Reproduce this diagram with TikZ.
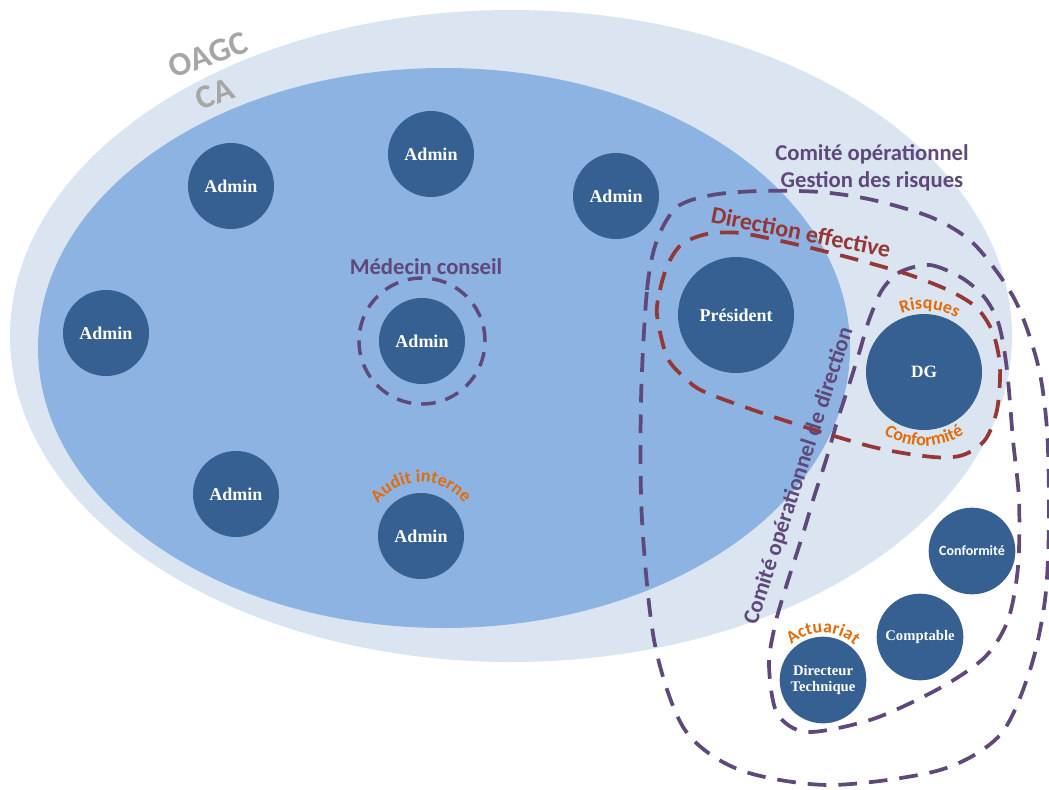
\documentclass[tikz,border=0pt]{standalone}
\usepackage{fontspec}
\usetikzlibrary{decorations.text}
\newfontfamily\calib{Carlito}
\newfontfamily\tnr{Liberation Serif}
\definecolor{oagcblue}{HTML}{DBE5F1}
\definecolor{cablue}{HTML}{8DB3E2}
\definecolor{nodeblue}{HTML}{366092}
\definecolor{purp}{HTML}{5F497A}
\definecolor{redbrown}{HTML}{953735}
\definecolor{orng}{HTML}{E36C09}
\definecolor{labgray}{HTML}{A6A6A6}
\begin{document}
\begin{tikzpicture}[x=0.75pt,y=0.75pt,
  member/.style={circle,fill=nodeblue,text=white,inner sep=0pt,minimum size=64.5pt,font=\tnr\bfseries\fontsize{13.5}{15}\selectfont},
  bigmember/.style={member,minimum size=87pt},
  subunit/.style={member,minimum size=65pt,align=center,font=\tnr\bfseries\fontsize{11}{12.5}\selectfont},
  cmtloop/.style={line width=2.8pt,dash pattern=on 14pt off 9pt},
  purplab/.style={text=purp,font=\calib\bfseries\fontsize{17}{20}\selectfont},
  graylab/.style={text=labgray,rotate=20,font=\calib\bfseries\fontsize{25}{28}\selectfont},
  arclabel/.style={decorate,decoration={text along path,text align=center,text color=orng,
    text={|\calib\bfseries\fontsize{13.5}{15}\selectfont|#1}}}]
\useasboundingbox (0,0) rectangle (1049,-789);
\fill[oagcblue] (511,-336) ellipse [x radius=501,y radius=326];
\fill[cablue] (444,-348) ellipse [x radius=406,y radius=280];

\node[graylab] (oagc) at (208,-55) {OAGC};
\node[graylab] (ca) at (215,-94) {CA};

\node[member] (a1) at (231,-186) {Admin};
\node[member] (a2) at (431,-154) {Admin};
\node[member] (a3) at (616,-196) {Admin};
\node[member] (a4) at (106,-333) {Admin};
\node[member] (mc) at (422,-341) {Admin};
\node[member] (a5) at (236,-494) {Admin};
\node[member] (ai) at (421,-536) {Admin};
\node[bigmember] (pres) at (736,-315) {Président};
\node[bigmember,font=\tnr\bfseries\fontsize{13}{15}\selectfont] (dg) at (924,-372) {DG};
\node[subunit,font=\calib\bfseries\fontsize{10.5}{12}\selectfont] (conf) at (972,-551) {Conformité};
\node[subunit] (compt) at (920,-637) {Comptable};
\node[subunit] (dt) at (823,-680) {Directeur\\Technique};

\node[circle,draw=purp,line width=2.6pt,dash pattern=on 11pt off 7.5pt,minimum size=94.5pt] (mcring) at (mc) {};
\node[purplab] (mclab) at (426,-267) {Médecin conseil};

\draw[cmtloop,purp] plot[smooth cycle] coordinates {(641,-400) (647,-290) (657,-240) (677,-207) (712,-195) (760,-191) (820,-192) (873,-200) (933,-218) (975,-245) (1015,-300) (1038,-365) (1047,-430) (1049,-520) (1045,-600) (1030,-670) (1000,-735) (940,-770) (830,-785) (740,-770) (685,-730) (655,-645) (642,-520)};
\draw[cmtloop,purp] plot[smooth cycle] coordinates {(900,-272) (930,-265) (962,-278) (985,-298) (999,-325) (1007,-370) (1013,-440) (1019,-500) (1018,-567) (1008,-620) (985,-657) (940,-688) (873,-719) (807,-732) (777,-713) (769,-665) (775,-625) (785,-590) (802,-537) (814,-497) (826,-460) (837,-422) (850,-382) (860,-350) (869,-320) (882,-290)};
\draw[cmtloop,redbrown] plot[smooth cycle] coordinates {(657,-315) (660,-290) (668,-264) (682,-244) (707,-234) (740,-233) (790,-243) (847,-257) (907,-274) (950,-291) (977,-308) (993,-333) (1000,-367) (997,-410) (985,-440) (963,-455) (933,-457) (873,-447) (783,-420) (707,-393) (685,-378) (667,-357)};

\node[purplab,align=center] (cogr) at (872,-168) {Comité opérationnel\\Gestion des risques};
\node[purplab,text=redbrown,rotate=-11,font=\calib\bfseries\fontsize{18}{20}\selectfont] (de) at (801,-232) {Direction effective};
\node[purplab,rotate=72] (cod) at (799,-476) {Comité opérationnel de direction};

\path[arclabel=Risques] ([shift={(148:63)}]dg.center) arc[start angle=148,end angle=22,radius=63];
\path[arclabel=Conformité] ([shift={(210:74)}]dg.center) arc[start angle=210,end angle=330,radius=74];
\path[arclabel=Actuariat] ([shift={(160:47)}]dt.center) arc[start angle=160,end angle=20,radius=47];
\path[arclabel=Audit interne] ([shift={(165:54)}]ai.center) arc[start angle=165,end angle=15,radius=54];
\end{tikzpicture}
\end{document}
